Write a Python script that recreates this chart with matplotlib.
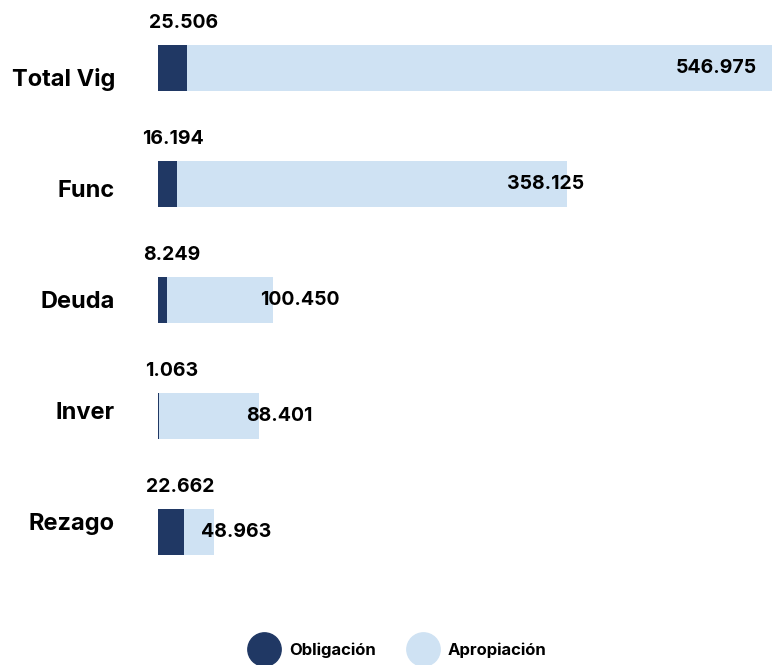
import matplotlib
matplotlib.use("Agg")
import matplotlib.pyplot as plt
from matplotlib.lines import Line2D

categories = ["Total Vig", "Func", "Deuda", "Inver", "Rezago"]
obligacion = [25.506, 16.194, 8.249, 1.063, 22.662]
apropiacion = [546.975, 358.125, 100.450, 88.401, 48.963]
obl_labels = ["25.506", "16.194", "8.249", "1.063", "22.662"]
apr_labels = ["546.975", "358.125", "100.450", "88.401", "48.963"]

DARK = "#203864"
LIGHT = "#cfe2f3"
plt.rcParams['font.family'] = ['Inter', 'DejaVu Sans']

fig = plt.figure(figsize=(7.72, 6.65), dpi=100)
ax = fig.add_axes([158/772, 1 - 590/665, 1 - 158/772, 580/665])

y = list(range(len(categories)))
ax.barh(y, apropiacion, height=0.4, color=LIGHT, zorder=2)
ax.barh(y, obligacion, height=0.4, color=DARK, zorder=3)

XMAX = 537
ax.set_xlim(0, XMAX)
ax.set_ylim(len(categories) - 0.5, -0.5)
# category labels sit on a slightly compressed spacing relative to bars
ax.set_yticks([0.08 + i * 0.957 for i in y])
ax.set_yticklabels(categories, fontsize=17, fontweight='bold')
ax.tick_params(axis='y', length=0, pad=31)
ax.set_xticks([])
for s in ax.spines.values():
    s.set_visible(False)

for i, (o, a, ol, al) in enumerate(zip(obligacion, apropiacion, obl_labels, apr_labels)):
    ax.text(max(o, 15) - 3, i - 0.31, ol, ha='center', va='bottom', fontsize=14,
            fontweight='bold', color='black', zorder=4)
    if a >= XMAX:
        ax.annotate(al, xy=(XMAX, i), xytext=(-15, 0), textcoords='offset pixels',
                    ha='right', va='center', fontsize=14, fontweight='bold', zorder=4)
    elif a > 200:
        ax.annotate(al, xy=(a, i), xytext=(17, 0), textcoords='offset pixels',
                    ha='right', va='center', fontsize=14, fontweight='bold', zorder=4)
    else:
        ax.annotate(al, xy=(a, i), xytext=(-13, 0), textcoords='offset pixels',
                    ha='left', va='center', fontsize=14, fontweight='bold', zorder=4)

handles = [Line2D([], [], marker='o', linestyle='', markersize=24, color=DARK, label='Obligación'),
           Line2D([], [], marker='o', linestyle='', markersize=24, color=LIGHT, label='Apropiación')]
fig.legend(handles=handles, loc='center', bbox_to_anchor=(397/772, 1 - 650/665), ncol=2,
           frameon=False, prop={'size': 12, 'weight': 'bold'}, handletextpad=0.5,
           columnspacing=1.8)

fig.savefig("out.png", dpi=100)
